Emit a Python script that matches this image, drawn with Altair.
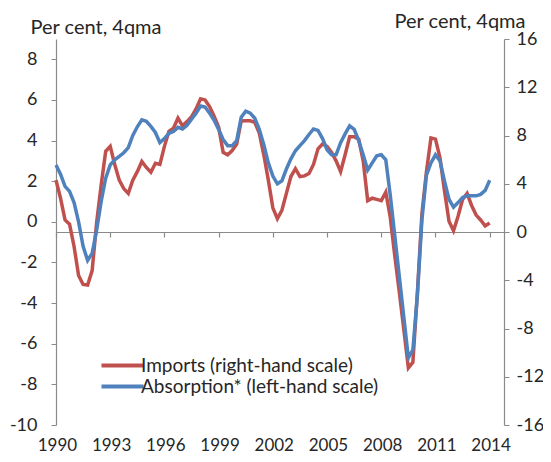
import altair as alt
import pandas as pd

# Quarterly data, 1990Q1 .. 2014Q1 (4-quarter moving averages, per cent)
imports = [4.3, 2.8, 1.0, 0.65, -1.2, -3.6, -4.35, -4.4, -3.2, 0.8,
           3.9, 6.7, 7.1, 5.6, 4.3, 3.6, 3.2, 4.3, 5.0, 5.85,
           5.35, 4.95, 5.7, 5.6, 7.1, 8.35, 8.6, 9.45, 8.8, 9.15,
           9.55, 10.2, 11.05, 10.95, 10.4, 9.6, 8.7, 6.6, 6.4, 6.75,
           7.3, 9.2, 9.22, 9.22, 9.1, 8.2, 6.4, 4.3, 2.0, 1.1,
           1.8, 3.2, 4.6, 5.25, 4.6, 4.65, 4.85, 5.6, 6.9, 7.3,
           7.1, 6.6, 5.9, 5.0, 6.4, 7.9, 7.9, 7.7, 5.9, 2.6,
           2.8, 2.7, 2.6, 3.3, 1.2, -2.0, -5.0, -8.1, -11.27, -10.8,
           -5.0, 1.5, 5.0, 7.8, 7.7, 6.15, 3.4, 0.9, 0.1, 1.3,
           2.7, 3.2, 2.2, 1.4, 1.0, 0.5, 0.75]
absorption = [2.8, 2.35, 1.75, 1.5, 0.95, 0.0, -1.2, -1.9, -1.55, -0.4,
              1.0, 2.15, 2.8, 3.05, 3.22, 3.4, 3.65, 4.25, 4.68, 5.02,
              4.95, 4.7, 4.4, 3.9, 4.1, 4.36, 4.45, 4.65, 4.57, 4.75,
              5.05, 5.35, 5.7, 5.65, 5.35, 5.0, 4.55, 4.05, 3.75, 3.75,
              4.0, 5.15, 5.45, 5.35, 5.1, 4.55, 3.8, 2.9, 2.25, 1.87,
              2.02, 2.6, 3.1, 3.5, 3.75, 4.0, 4.3, 4.57, 4.5, 4.1,
              3.55, 3.3, 3.3, 3.9, 4.33, 4.72, 4.55, 4.0, 3.3, 2.55,
              2.9, 3.25, 3.3, 3.05, 1.3, -0.7, -2.7, -4.7, -6.7, -6.3,
              -3.6, 0.1, 2.3, 2.9, 3.3, 3.0, 2.0, 1.1, 0.72, 0.95,
              1.2, 1.28, 1.28, 1.28, 1.35, 1.55, 2.05]
year_labels = [1990, 1993, 1996, 1999, 2002, 2005, 2008, 2011, 2014]
left_ticks = [-10, -8, -6, -4, -2, 0, 2, 4, 6, 8]
right_ticks = [-16, -12, -8, -4, 0, 4, 8, 12, 16]

IMP = "Imports (right-hand scale)"
ABS = "Absorption* (left-hand scale)"
RED = "#C0504D"
BLUE = "#4F81BD"
FONT = "Lato"
TXT = "#262626"
GRAY = "#8a8a8a"
TICK_FS = 18
TITLE_FS = 20
LEG_FS = 19
PLAIN = "'' + datum.value"

n = len(imports)
years = [1990 + i / 4 for i in range(n)]
df_imp = pd.DataFrame({"year": years, "value": imports, "series": IMP})
df_abs = pd.DataFrame({"year": years, "value": absorption, "series": ABS})
df_lab = pd.DataFrame({"year": year_labels})

W, H = 448, 386
XDOM = [1990, 1990 + W / 18.07]

xscale = alt.Scale(domain=XDOM, nice=False, zero=False)
xaxis = alt.Axis(values=year_labels, labels=False, title=None, grid=False,
                 orient="bottom", offset=-H / 2, tickSize=5, tickColor=GRAY,
                 domainColor=GRAY, domainWidth=1.2, tickWidth=1.2)

color = alt.Color("series:N",
                  scale=alt.Scale(domain=[IMP, ABS], range=[RED, BLUE]),
                  legend=alt.Legend(title=None, orient="none", legendX=57, legendY=317,
                                    symbolType="M-3,0H3", symbolSize=196,
                                    symbolStrokeWidth=4, labelOffset=9,
                                    labelFontSize=LEG_FS, labelFont=FONT, labelColor=TXT,
                                    labelLimit=500, rowPadding=1, padding=0))

red = alt.Chart(df_imp).mark_line(strokeWidth=3.5).encode(
    x=alt.X("year:Q", scale=xscale, axis=xaxis),
    y=alt.Y("value:Q", scale=alt.Scale(domain=[-16, 16], nice=False, zero=False),
            axis=alt.Axis(orient="right", values=right_ticks, title="Per cent, 4qma",
                          titleAngle=0, titleAlign="left", titleBaseline="middle",
                          titleX=-110, titleY=-18, titleFont=FONT, titleFontSize=TITLE_FS,
                          titleFontWeight="normal", titleColor=TXT,
                          labelExpr=PLAIN,
                          labelFont=FONT, labelFontSize=TICK_FS, labelColor=TXT,
                          labelPadding=7, tickSize=5, tickColor=GRAY,
                          domainColor=GRAY, domainWidth=1.2, grid=False)),
    color=color,
)

blue = alt.Chart(df_abs).mark_line(strokeWidth=3.5).encode(
    x=alt.X("year:Q", scale=xscale, axis=None),
    y=alt.Y("value:Q", scale=alt.Scale(domain=[-10, 9], nice=False, zero=False),
            axis=alt.Axis(orient="left", values=left_ticks, title="Per cent, 4qma",
                          titleAngle=0, titleAlign="left", titleBaseline="middle",
                          titleX=-26, titleY=-12, titleFont=FONT, titleFontSize=TITLE_FS,
                          titleFontWeight="normal", titleColor=TXT,
                          labelExpr=PLAIN,
                          labelFont=FONT, labelFontSize=TICK_FS, labelColor=TXT,
                          labelPadding=14, tickSize=5, tickColor=GRAY,
                          domainColor=GRAY, domainWidth=1.2, grid=False)),
    color=color,
)

labels = alt.Chart(df_lab).mark_point(opacity=0).encode(
    x=alt.X("year:Q",
            scale=alt.Scale(domain=[XDOM[0] - 0.05, XDOM[1] - 0.05], nice=False, zero=False),
            axis=alt.Axis(values=year_labels, format="d", orient="bottom", title=None,
                          domain=False, ticks=False, grid=False, labelPadding=12,
                          labelFlush=False, labelOverlap=False,
                          labelFont=FONT, labelFontSize=17, labelColor=TXT)),
    y=alt.value(0),
)

chart = alt.layer(red, blue, labels).resolve_scale(
    x="independent", y="independent", color="shared"
).properties(
    width=W, height=H, autosize=alt.AutoSizeParams(type="none"),
    padding={"left": 48, "top": 31, "right": 39, "bottom": 29},
    background="white",
).configure_view(stroke="transparent")

chart.save("out.html", embed_options={"renderer": "svg", "actions": False})
